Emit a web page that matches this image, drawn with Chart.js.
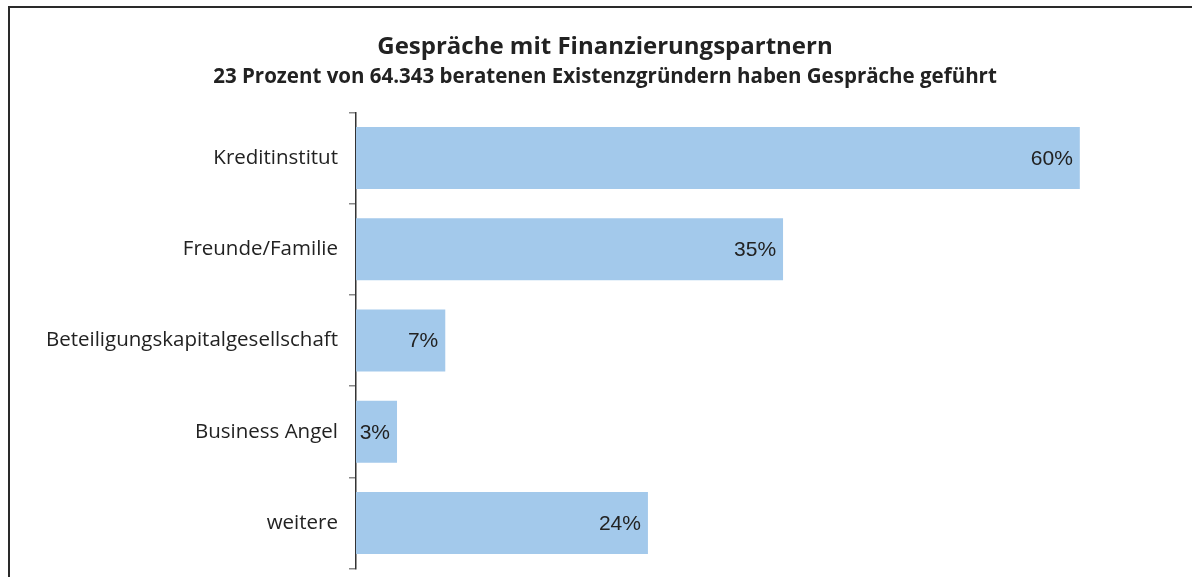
<!DOCTYPE html>
<html>
<head>
<meta charset="utf-8">
<script src="https://cdn.jsdelivr.net/npm/chart.js@4"></script>
<style>
  html, body { margin: 0; background: #fff; overflow: hidden; width: 1192px; height: 577px; }
  .frame {
    position: absolute; left: 8px; top: 6px; width: 1300px; height: 700px;
    border-top: 2px solid #2a2a2a; border-left: 2px solid #2a2a2a;
  }
  /* a bit taller than the window: the y axis keeps room below its last label */
  .wrap { position: absolute; left: 0; top: 0; width: 1192px; height: 592px; }
</style>
</head>
<body>
<div class="frame"></div>
<div class="wrap"><canvas id="myChart"></canvas></div>
<script>
const categories = [
  "Kreditinstitut",
  "Freunde/Familie",
  "Beteiligungskapitalgesellschaft",
  "Business Angel",
  "weitere",
];
const shares = [60, 35.4, 7.4, 3.4, 24.2];
const titleText = "Gespräche mit Finanzierungspartnern";
const subtitleText = "23 Prozent von 64.343 beratenen Existenzgründern haben Gespräche geführt";

// percent labels at the inner end of each bar
const barLabels = {
  id: "barLabels",
  afterDatasetsDraw(chart) {
    const ctx = chart.ctx;
    const meta = chart.getDatasetMeta(0);
    ctx.save();
    ctx.font = "21px 'Liberation Sans', Arial, sans-serif";
    ctx.fillStyle = "#222";
    ctx.textAlign = "right";
    ctx.textBaseline = "middle";
    meta.data.forEach((bar, i) => {
      const txt = Math.round(shares[i]) + "%";
      const w = ctx.measureText(txt).width;
      const x = Math.max(bar.x - 7, bar.base + 3 + w);
      ctx.fillText(txt, x, bar.y + 1);
    });
    ctx.restore();
  },
};

const ctx = document.getElementById("myChart").getContext("2d");
new Chart(ctx, {
  type: "bar",
  data: {
    labels: categories,
    datasets: [
      {
        data: shares,
        backgroundColor: "#a3c9eb",
        borderWidth: 0,
        categoryPercentage: 1,
        barPercentage: 0.68,
      },
    ],
  },
  options: {
    indexAxis: "y",
    responsive: true,
    maintainAspectRatio: false,
    animation: false,
    layout: { padding: { left: 18, right: 0, top: 0, bottom: 0 } },
    plugins: {
      legend: { display: false },
      tooltip: { enabled: false },
      title: {
        display: true,
        text: titleText,
        color: "#222",
        font: { family: "'Open Sans', sans-serif", size: 24, weight: "bold" },
        padding: { top: 33, bottom: 3 },
      },
      subtitle: {
        display: true,
        text: subtitleText,
        color: "#222",
        font: { family: "'Open Sans', sans-serif", size: 20.5, weight: "bold" },
        padding: { top: 0, bottom: 23 },
      },
    },
    scales: {
      x: {
        display: false,
        min: 0,
        max: 69.3,
      },
      y: {
        afterFit(scale) {
          scale.width = 338;
        },
        border: { display: true, color: "#333", width: 1.5 },
        grid: {
          offset: true,
          drawOnChartArea: false,
          drawTicks: true,
          tickLength: 7,
          color: "#888",
          lineWidth: 1.5,
        },
        ticks: {
          color: "#222",
          padding: 11,
          font: { family: "'Open Sans', sans-serif", size: 20.5 },
        },
      },
    },
  },
  plugins: [barLabels],
});
</script>
</body>
</html>
